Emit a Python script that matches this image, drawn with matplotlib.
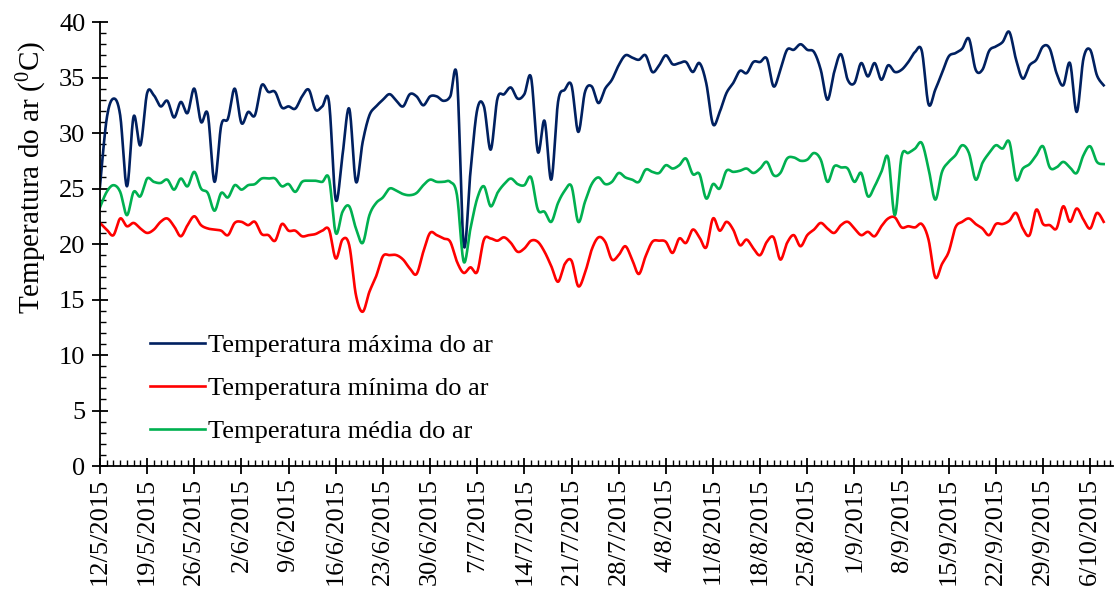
import numpy as np
import pandas as pd
import matplotlib
matplotlib.use("Agg")
from matplotlib import pyplot as plt
from matplotlib.ticker import MultipleLocator

plt.rcParams['font.family'] = ['Liberation Serif', 'DejaVu Serif']
plt.rcParams['mathtext.fontset'] = 'custom'
plt.rcParams['mathtext.rm'] = 'Liberation Serif'

start = "2015-05-12"

tmax = [25.2, 31.3, 33.1, 31.6, 25.2, 31.5, 28.9, 33.6, 33.4, 32.4,
        32.9, 31.4, 32.8, 31.8, 34.0, 31.0, 31.7, 25.6, 30.7, 31.3,
        34.0, 30.9, 31.9, 31.6, 34.3, 33.7, 33.7, 32.3, 32.4, 32.2,
        33.3, 33.9, 32.1, 32.4, 32.8, 24.0, 28.0, 32.2, 25.6, 29.2,
        31.6, 32.4, 33.0, 33.5, 32.9, 32.4, 33.5, 33.3, 32.5, 33.3,
        33.3, 32.9, 33.3, 35.0, 19.9, 26.5, 32.1, 32.4, 28.5, 33.1,
        33.5, 34.1, 33.1, 33.5, 35.0, 28.3, 31.1, 25.8, 32.8, 33.9,
        34.3, 30.1, 33.7, 34.2, 32.7, 34.0, 34.8, 36.1, 37.0, 36.8,
        36.6, 37.0, 35.5, 36.1, 37.0, 36.2, 36.3, 36.4, 35.5, 36.3,
        34.5, 30.8, 31.9, 33.6, 34.5, 35.6, 35.4, 36.4, 36.4, 36.7,
        34.2, 35.7, 37.5, 37.5, 38.0, 37.5, 37.3, 35.7, 33.0, 35.5,
        37.1, 34.8, 34.5, 36.3, 35.1, 36.3, 34.8, 36.1, 35.5, 35.7,
        36.4, 37.3, 37.4, 32.6, 33.9, 35.4, 36.9, 37.2, 37.6, 38.5,
        35.7, 35.7, 37.4, 37.8, 38.2, 39.1, 36.6, 34.9, 36.1, 36.6,
        37.8, 37.6, 35.4, 34.3, 36.3, 31.9, 36.7, 37.5, 35.2, 34.3]

tmin = [21.9, 21.3, 20.8, 22.3, 21.6, 21.9, 21.4, 21.0, 21.3, 22.0,
        22.3, 21.6, 20.7, 21.7, 22.5, 21.7, 21.4, 21.3, 21.2, 20.8,
        21.9, 22.0, 21.7, 22.0, 20.9, 20.8, 20.3, 21.8, 21.2, 21.2,
        20.7, 20.8, 20.9, 21.2, 21.3, 18.7, 20.4, 19.9, 15.4, 13.9,
        15.7, 17.1, 18.9, 19.0, 19.0, 18.6, 17.8, 17.3, 19.3, 21.0,
        20.8, 20.5, 20.2, 18.4, 17.4, 17.9, 17.5, 20.4, 20.5, 20.3,
        20.6, 20.1, 19.3, 19.6, 20.3, 20.2, 19.3, 18.0, 16.6, 18.2,
        18.5, 16.2, 17.4, 19.5, 20.6, 20.2, 18.6, 19.0, 19.8, 18.6,
        17.3, 18.9, 20.2, 20.3, 20.2, 19.2, 20.5, 20.1, 21.3, 20.6,
        19.7, 22.3, 21.2, 22.0, 21.3, 19.9, 20.4, 19.6, 19.0, 20.2,
        20.6, 18.6, 20.1, 20.8, 19.8, 20.8, 21.3, 21.9, 21.4, 21.0,
        21.7, 22.0, 21.4, 20.8, 21.1, 20.7, 21.6, 22.3, 22.4, 21.5,
        21.6, 21.5, 21.8, 20.4, 17.0, 18.2, 19.3, 21.5, 22.0, 22.3,
        21.8, 21.4, 20.8, 21.8, 21.8, 22.1, 22.8, 21.4, 20.8, 23.1,
        21.8, 21.7, 21.4, 23.4, 22.0, 23.2, 22.2, 21.4, 22.8, 22.0]

tmed = [23.3, 24.7, 25.3, 24.7, 22.6, 24.7, 24.3, 25.9, 25.6, 25.5,
        25.8, 24.9, 25.9, 25.2, 26.5, 25.0, 24.6, 23.0, 24.6, 24.2,
        25.3, 24.9, 25.3, 25.4, 25.9, 25.9, 25.9, 25.2, 25.4, 24.7,
        25.6, 25.7, 25.7, 25.6, 25.9, 21.0, 22.9, 23.4, 21.4, 20.1,
        22.6, 23.7, 24.2, 25.0, 24.8, 24.5, 24.4, 24.6, 25.3, 25.8,
        25.6, 25.6, 25.6, 24.4, 18.4, 21.4, 24.1, 25.2, 23.4, 24.6,
        25.4, 25.9, 25.4, 25.3, 26.0, 23.1, 22.9, 22.0, 23.7, 24.8,
        25.2, 22.0, 23.8, 25.4, 26.0, 25.4, 25.6, 26.4, 26.0, 25.8,
        25.6, 26.7, 26.5, 26.4, 27.1, 26.8, 27.1, 27.7, 26.3, 26.3,
        24.1, 25.4, 25.0, 26.6, 26.5, 26.6, 26.8, 26.4, 26.8, 27.4,
        26.2, 26.4, 27.7, 27.8, 27.5, 27.6, 28.2, 27.6, 25.6, 27.0,
        26.9, 26.8, 25.6, 26.4, 24.3, 25.2, 26.5, 27.8, 22.6, 27.9,
        28.2, 28.6, 29.1, 26.8, 24.0, 26.5, 27.4, 28.0, 28.9, 28.2,
        25.8, 27.3, 28.2, 28.9, 28.6, 29.2, 25.8, 26.8, 27.2, 28.0,
        28.8, 26.9, 26.9, 27.4, 26.9, 26.4, 28.0, 28.8, 27.4, 27.2]

labels = ["Temperatura máxima do ar", "Temperatura mínima do ar", "Temperatura média do ar"]
colors = ["#002060", "#FF0000", "#00B050"]

dates = pd.date_range(start, periods=len(tmax), freq="D")
days = np.arange(len(tmax))


def smooth(x, y, n=16):
    # bezier smoothing like a spreadsheet "smoothed line"
    x = np.asarray(x, float)
    y = np.asarray(y, float)
    xp = np.concatenate([[x[0]], x, [x[-1]]])
    yp = np.concatenate([[y[0]], y, [y[-1]]])
    t = np.linspace(0, 1, n, endpoint=False)[:, None]
    xs, ys = [], []
    for i in range(len(x) - 1):
        p0 = np.array([xp[i + 1], yp[i + 1]])
        p3 = np.array([xp[i + 2], yp[i + 2]])
        c1 = p0 + (p3 - np.array([xp[i], yp[i]])) / 6
        c2 = p3 - (np.array([xp[i + 3], yp[i + 3]]) - p0) / 6
        b = ((1 - t) ** 3) * p0 + 3 * ((1 - t) ** 2) * t * c1 + 3 * (1 - t) * t ** 2 * c2 + t ** 3 * p3
        xs.append(b[:, 0])
        ys.append(b[:, 1])
    xs.append([x[-1]])
    ys.append([y[-1]])
    return np.concatenate(xs), np.concatenate(ys)


fig = plt.figure(figsize=(11.17, 5.89), dpi=100)
ax = fig.add_axes([0.0895, 0.2088, 0.907, 0.7538])

for s, lab, c in zip([tmax, tmin, tmed], labels, colors):
    sx, sy = smooth(days, s)
    ax.plot(sx, sy, color=c, linewidth=1.9, label=lab)

ax.set_xlim(0, 150.4)
ax.set_ylim(0, 40)
ax.yaxis.set_major_locator(MultipleLocator(5))
ax.yaxis.set_minor_locator(MultipleLocator(1))
ax.xaxis.set_minor_locator(MultipleLocator(1))
major = days[::7]
ax.set_xticks(major)
ax.set_xticklabels([f"{d.day}/{d.month}/{d.year}" for d in dates[::7]], rotation=90, fontsize=19)
ax.tick_params(axis='y', labelsize=19, pad=5)
ax.tick_params(axis='x', pad=3)
ax.tick_params(which='major', direction='inout', length=11, width=1.3, color='black')
ax.tick_params(which='minor', direction='in', length=4, width=1.0, color='black')

for sp in ['top', 'right']:
    ax.spines[sp].set_visible(False)
for sp in ['left', 'bottom']:
    ax.spines[sp].set_linewidth(1.3)

ax.set_ylabel(r"Temperatura do ar ($\mathregular{^0}$C)", fontsize=21)
ax.yaxis.set_label_coords(-0.05, 0.65)

ax.legend(loc='upper left', bbox_to_anchor=(0.049, 0.299), frameon=False, fontsize=19,
          handlelength=2.1, handletextpad=0.12, labelspacing=0.75, borderpad=0, borderaxespad=0)

plt.savefig("out.png", dpi=100)
